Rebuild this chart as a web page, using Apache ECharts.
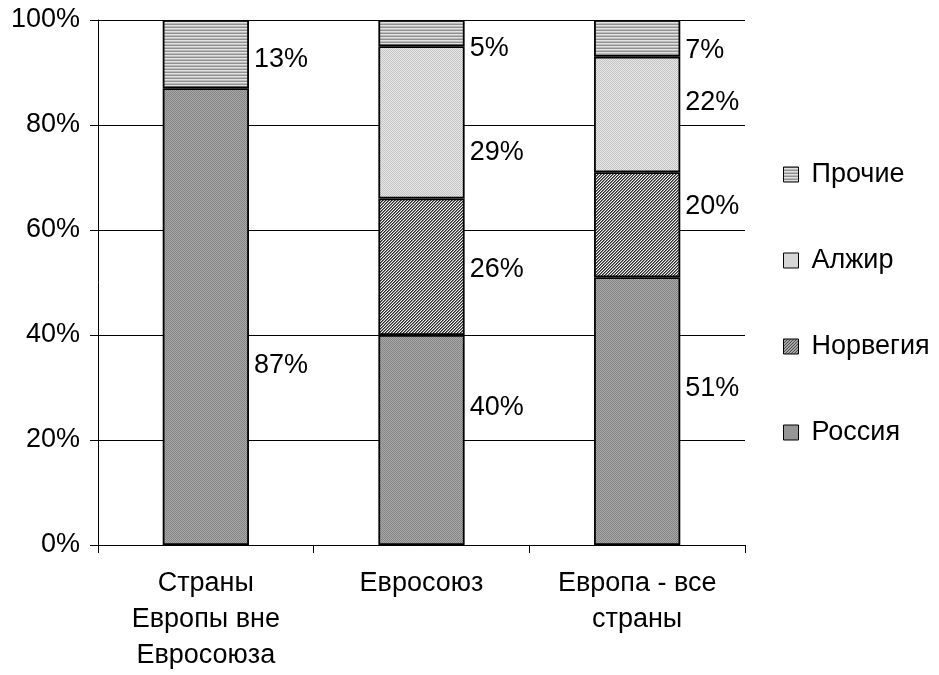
<!DOCTYPE html>
<html>
<head>
<meta charset="utf-8">
<script src="https://cdn.jsdelivr.net/npm/echarts@6/dist/echarts.min.js"></script>
<style>
html,body{margin:0;padding:0;background:#fff;}
#chart{width:939px;height:675px;}
</style>
</head>
<body>
<div id="chart"></div>
<script>
// Categories and shares (%) per supplier
var categories = ['Страны\nЕвропы вне\nЕвросоюза', 'Евросоюз', 'Европа - все\nстраны'];
var russia = [87, 40, 51];
var norway = [null, 26, 20];
var algeria = [null, 29, 22];
var others = [13, 5, 7];
var yTicks = [0, 20, 40, 60, 80, 100];

// vertical nudges for value labels (px)
var labelShift = {
  russia: [49, -32, -23],
  norway: [0, 3, -18],
  algeria: [0, 30, -12],
  others: [5, 15, 12]
};

function makePattern(size, draw) {
  var c = document.createElement('canvas');
  c.width = size; c.height = size;
  var ctx = c.getContext('2d');
  draw(ctx, size);
  return { image: c, repeat: 'repeat' };
}

// medium grey dotted fill
var russiaFill = makePattern(2, function (ctx) {
  ctx.fillStyle = '#a8a8a8'; ctx.fillRect(0, 0, 2, 2);
  ctx.fillStyle = '#858585'; ctx.fillRect(0, 0, 1, 1); ctx.fillRect(1, 1, 1, 1);
});
// fine diagonal hatch
var norwayFill = makePattern(3, function (ctx) {
  for (var y = 0; y < 3; y++) {
    for (var x = 0; x < 3; x++) {
      var k = (x + y) % 3;
      ctx.fillStyle = k === 0 ? '#2a2a2a' : (k === 1 ? '#7a7a7a' : '#f4f4f4');
      ctx.fillRect(x, y, 1, 1);
    }
  }
});
// light grey dotted fill
var algeriaFill = makePattern(2, function (ctx) {
  ctx.fillStyle = '#e8e8e8'; ctx.fillRect(0, 0, 2, 2);
  ctx.fillStyle = '#c4c4c4'; ctx.fillRect(0, 0, 1, 1); ctx.fillRect(1, 1, 1, 1);
});
// horizontal stripes
var othersFill = makePattern(3, function (ctx) {
  ctx.fillStyle = '#e2e2e2'; ctx.fillRect(0, 0, 3, 3);
  ctx.fillStyle = '#909090'; ctx.fillRect(0, 0, 3, 1);
  ctx.fillStyle = '#bcbcbc'; ctx.fillRect(0, 2, 3, 1);
});

var FONT = 'Liberation Sans, Arial, sans-serif';
var FS = 27;

function seriesFor(name, values, fill, shifts) {
  return {
    name: name,
    type: 'bar',
    stack: 'total',
    barWidth: '40%',
    itemStyle: { color: fill, borderColor: '#000', borderWidth: 1.8 },
    data: values.map(function (v, i) {
      return {
        value: v,
        label: { offset: [0, shifts[i]] }
      };
    }),
    label: {
      show: true,
      position: 'right',
      distance: 5,
      formatter: '{c}%',
      color: '#000',
      fontFamily: FONT,
      fontSize: FS
    }
  };
}

var chart = echarts.init(document.getElementById('chart'), null, { renderer: 'canvas' });
chart.setOption({
  animation: false,
  backgroundColor: '#fff',
  grid: { left: 98, top: 20, right: 194, bottom: 130, containLabel: false },
  legend: {
    orient: 'vertical',
    left: 778,
    top: 156,
    itemWidth: 15,
    itemHeight: 15,
    itemGap: 59,
    icon: 'rect',
    itemStyle: { borderColor: '#000', borderWidth: 1 },
    textStyle: { fontFamily: FONT, fontSize: FS, color: '#000', padding: [0, 0, 0, 8] },
    data: ['Прочие', 'Алжир', 'Норвегия', 'Россия']
  },
  xAxis: {
    type: 'category',
    data: categories,
    axisLine: { lineStyle: { color: '#000', width: 1 } },
    axisTick: { show: true, length: 8, lineStyle: { color: '#000' } },
    axisLabel: {
      fontFamily: FONT, fontSize: FS, color: '#000',
      lineHeight: 36, margin: 21, interval: 0
    }
  },
  yAxis: {
    type: 'value',
    min: 0, max: 100, interval: 20,
    axisLine: { show: true, lineStyle: { color: '#000', width: 1 } },
    axisTick: { show: true, length: 8, lineStyle: { color: '#000' } },
    splitLine: { lineStyle: { color: '#000', width: 1 } },
    axisLabel: {
      fontFamily: FONT, fontSize: FS, color: '#000', margin: 18,
      formatter: function (v) { return yTicks.indexOf(v) >= 0 ? v + '%' : ''; }
    }
  },
  series: [
    seriesFor('Россия', russia, russiaFill, labelShift.russia),
    seriesFor('Норвегия', norway, norwayFill, labelShift.norway),
    seriesFor('Алжир', algeria, algeriaFill, labelShift.algeria),
    seriesFor('Прочие', others, othersFill, labelShift.others)
  ]
});
</script>
</body>
</html>
